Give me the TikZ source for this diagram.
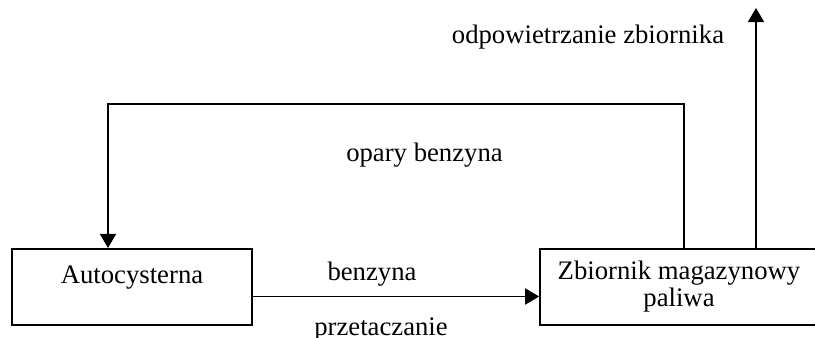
\documentclass[tikz,border=0pt]{standalone}
\usepackage{fontspec}
\setmainfont{Liberation Serif}
\usepackage{tikz}
\usetikzlibrary{arrows.meta,calc}
\tikzset{
  box/.style={draw, line width=0.9pt, minimum height=1.53cm, align=center,
    font=\fontsize{15.2}{15.4}\selectfont},
  flow/.style={line width=1pt, -{Triangle[length=0.28cm,width=0.32cm]}},
  lab/.style={anchor=base, inner sep=0pt, font=\fontsize{15.2}{15.4}\selectfont}
}
\begin{document}
\begin{tikzpicture}
  \useasboundingbox (0,0) rectangle (16.3,6.74);

  \node[box, minimum width=4.8cm, text height=0.37cm, text depth=0.53cm] (auto) at (2.64,1.0) {Autocysterna};
  \node[box, minimum width=5.56cm] (zb) at (13.58,1.0) {Zbiornik magazynowy\\paliwa};

  \coordinate (loopR) at ($(zb.north)+(0.1,0)$);
  \coordinate (loopL) at ($(auto.north)+(-0.48,0)$);
  \coordinate (vent) at (15.12,6.58);

  % przetaczanie benzyny
  \draw[flow] ($(auto.east)+(0,-0.19)$) coordinate (feed) -- (feed -| zb.west);
  % powrot oparow
  \draw[flow] (loopR) -- (loopR |- 0,4.66) -- (loopL |- 0,4.66) -- (loopL);
  % odpowietrzanie
  \draw[flow] (zb.north -| vent) -- (vent);

  \node[lab] (lvent) at (11.76,5.88) {odpowietrzanie zbiornika};
  \node[lab] (lopary) at (8.49,3.52) {opary benzyna};
  \node[lab] (lbenz) at (7.44,1.14) {benzyna};
  \node[lab] (lprzet) at (7.62,0.03) {przetaczanie};
\end{tikzpicture}
\end{document}
